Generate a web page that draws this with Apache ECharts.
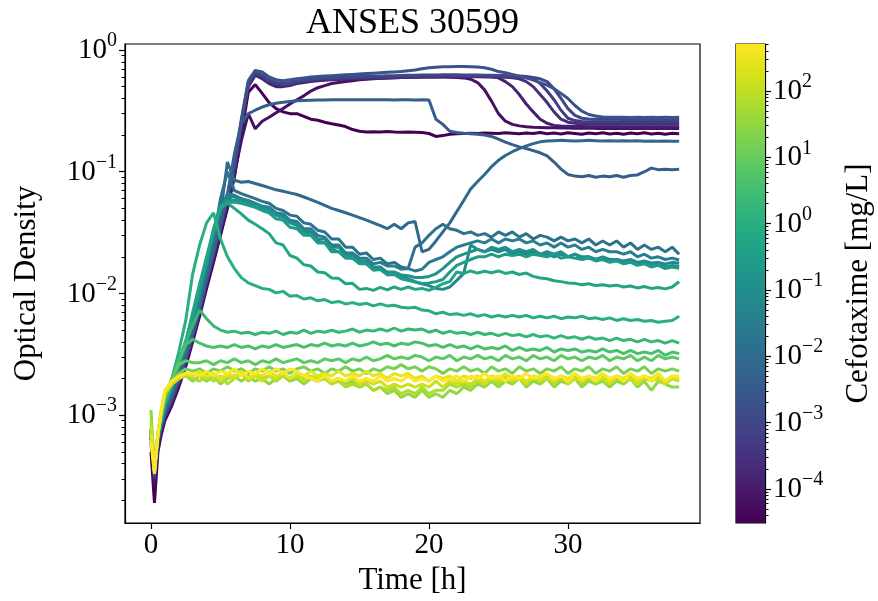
<!DOCTYPE html>
<html><head><meta charset="utf-8">
<script src="https://cdn.jsdelivr.net/npm/echarts@6/dist/echarts.min.js"></script>
<style>html,body{margin:0;padding:0;background:#fff}#chart{width:878px;height:601px}</style>
</head><body><div id="chart"></div>
<script>
// ---------- data ----------
const hours = [0,0.25,0.5,0.75,1,1.5,2,2.5,3,
 3.5,4,4.5,5,5.5,6,6.5,7,7.5,8,
 8.5,9,9.5,10,10.5,11,11.5,12,12.5,13,
 13.5,14,14.5,15,15.5,16,16.5,17,17.5,18,
 18.5,19,19.5,20,20.5,21,21.5,22,22.5,23,
 23.5,24,24.5,25,25.5,26,26.5,27,27.5,28,
 28.5,29,29.5,30,30.5,31,31.5,32,32.5,33,
 33.5,34,34.5,35,35.5,36,36.5,37,37.5,38];

// Cefotaxime concentration (mg/L) for curve k = 0..24
const concentrations = [512,256,128,64,32,16,8,4,2,1,0.5,0.25,0.125,0.0625,0.03125,0.015625,0.0078125,0.00390625,0.001953125,0.0009765625,0.00048828125,0.000244140625,0.0001220703125,0.00006103515625,0.000030517578125];

const od_k24 = [5e-4,1.9e-4,5e-4,7e-4,9e-4,1.2e-3,1.7e-3,2.5e-3,4e-3,
 0.0065,0.011,0.018,0.03,0.05,0.09,0.2,0.45,0.52,0.44,
 0.37,0.33,0.31,0.30,0.30,0.285,0.27,0.265,0.255,0.248,
 0.242,0.235,0.222,0.215,0.212,0.213,0.212,0.214,0.212,0.211,
 0.212,0.211,0.21,0.206,0.195,0.198,0.203,0.205,0.206,0.207,
 0.206,0.208,0.207,0.206,0.209,0.207,0.205,0.208,0.206,0.21,
 0.205,0.208,0.204,0.209,0.206,0.203,0.208,0.205,0.209,0.204,
 0.207,0.203,0.208,0.205,0.209,0.204,0.207,0.203,0.207,0.205];
const od_k23 = [6e-4,2.6e-4,5.5e-4,7.5e-4,9.5e-4,1.25e-3,1.8e-3,2.6e-3,4.2e-3,
 0.0068,0.0115,0.019,0.031,0.052,0.095,0.18,0.3,0.225,0.26,
 0.28,0.305,0.33,0.36,0.39,0.42,0.46,0.49,0.51,0.53,
 0.54,0.55,0.56,0.57,0.575,0.58,0.585,0.59,0.592,0.595,
 0.598,0.6,0.6,0.602,0.6,0.6,0.598,0.595,0.59,0.575,
 0.54,0.47,0.38,0.3,0.26,0.245,0.238,0.234,0.232,0.231,
 0.23,0.23,0.229,0.229,0.228,0.228,0.228,0.227,0.227,0.227,
 0.227,0.226,0.227,0.226,0.227,0.226,0.227,0.226,0.227,0.226];
const od_k22 = [6.5e-4,3e-4,5.5e-4,7.5e-4,9.5e-4,1.3e-3,1.8e-3,2.7e-3,4.3e-3,
 0.007,0.012,0.02,0.033,0.056,0.1,0.23,0.5,0.62,0.58,
 0.53,0.5,0.5,0.51,0.53,0.54,0.55,0.56,0.565,0.57,
 0.572,0.575,0.577,0.58,0.582,0.585,0.587,0.59,0.592,0.594,
 0.596,0.598,0.6,0.6,0.601,0.602,0.602,0.603,0.603,0.603,
 0.603,0.602,0.6,0.59,0.55,0.5,0.43,0.36,0.31,0.27,
 0.25,0.24,0.237,0.236,0.235,0.235,0.234,0.234,0.234,0.234,
 0.234,0.233,0.234,0.233,0.234,0.233,0.234,0.233,0.234,0.233];
const od_k21 = [7e-4,3e-4,6e-4,8e-4,1e-3,1.3e-3,1.9e-3,2.8e-3,4.4e-3,
 0.0072,0.0123,0.021,0.034,0.058,0.105,0.24,0.52,0.64,0.6,
 0.55,0.52,0.51,0.52,0.54,0.55,0.56,0.565,0.57,0.575,
 0.578,0.58,0.583,0.585,0.588,0.59,0.592,0.594,0.596,0.598,
 0.6,0.602,0.604,0.605,0.606,0.607,0.607,0.607,0.606,0.606,
 0.605,0.604,0.603,0.601,0.598,0.59,0.58,0.55,0.5,0.43,
 0.37,0.31,0.27,0.255,0.25,0.247,0.246,0.246,0.246,0.246,
 0.246,0.245,0.246,0.245,0.246,0.245,0.246,0.245,0.246,0.245];
const od_k20 = [7e-4,3.1e-4,6e-4,8e-4,1e-3,1.35e-3,1.9e-3,2.9e-3,4.5e-3,
 0.0074,0.0126,0.021,0.035,0.06,0.11,0.25,0.53,0.65,0.61,
 0.56,0.53,0.52,0.53,0.55,0.56,0.57,0.575,0.58,0.583,
 0.586,0.588,0.59,0.592,0.594,0.596,0.598,0.6,0.602,0.604,
 0.606,0.608,0.61,0.611,0.612,0.613,0.613,0.613,0.613,0.612,
 0.612,0.611,0.61,0.609,0.607,0.604,0.6,0.59,0.58,0.53,
 0.46,0.39,0.32,0.275,0.263,0.259,0.257,0.257,0.257,0.257,
 0.257,0.256,0.257,0.256,0.257,0.256,0.257,0.256,0.257,0.256];
const od_k19 = [7e-4,3.2e-4,6.2e-4,8.2e-4,1e-3,1.4e-3,2e-3,3e-3,4.6e-3,
 0.0076,0.013,0.022,0.036,0.062,0.115,0.26,0.54,0.66,0.62,
 0.57,0.54,0.53,0.54,0.56,0.57,0.58,0.585,0.59,0.594,
 0.597,0.6,0.602,0.605,0.607,0.609,0.611,0.613,0.615,0.617,
 0.619,0.62,0.622,0.623,0.624,0.625,0.625,0.625,0.624,0.623,
 0.622,0.621,0.62,0.618,0.616,0.613,0.61,0.605,0.595,0.58,
 0.55,0.48,0.4,0.33,0.29,0.275,0.271,0.27,0.27,0.27,
 0.27,0.269,0.27,0.269,0.27,0.269,0.27,0.269,0.27,0.269];
const od_k18 = [7e-4,3.2e-4,6.3e-4,8.4e-4,1.05e-3,1.4e-3,2e-3,3e-3,4.7e-3,
 0.0078,0.0133,0.0225,0.037,0.064,0.12,0.27,0.56,0.68,0.66,
 0.6,0.57,0.56,0.57,0.58,0.59,0.6,0.605,0.61,0.615,
 0.62,0.625,0.63,0.635,0.64,0.645,0.65,0.655,0.66,0.665,
 0.675,0.685,0.7,0.715,0.722,0.728,0.73,0.732,0.732,0.73,
 0.725,0.715,0.695,0.665,0.65,0.63,0.61,0.59,0.565,0.54,
 0.515,0.48,0.44,0.4,0.35,0.315,0.295,0.287,0.282,0.28,
 0.28,0.28,0.279,0.28,0.279,0.28,0.279,0.28,0.279,0.28];
const od_k17 = [7e-4,3.3e-4,6.3e-4,8.5e-4,1.05e-3,1.45e-3,2.05e-3,3.1e-3,4.8e-3,
 0.0078,0.0135,0.022,0.037,0.065,0.14,0.25,0.3,0.32,0.34,
 0.355,0.365,0.372,0.378,0.382,0.385,0.387,0.388,0.389,0.39,
 0.39,0.391,0.39,0.391,0.39,0.39,0.391,0.39,0.389,0.39,
 0.39,0.389,0.39,0.389,0.27,0.245,0.215,0.21,0.207,0.205,
 0.203,0.2,0.195,0.185,0.175,0.167,0.16,0.155,0.149,0.143,
 0.135,0.12,0.105,0.095,0.092,0.091,0.093,0.09,0.092,0.091,
 0.093,0.09,0.093,0.094,0.1,0.107,0.104,0.105,0.104,0.105];
const od_k16 = [7e-4,3.3e-4,6.5e-4,8.5e-4,1.1e-3,1.5e-3,2.1e-3,3.2e-3,5e-3,
 0.008,0.014,0.024,0.045,0.12,0.085,0.082,0.083,0.08,0.077,
 0.074,0.071,0.069,0.067,0.065,0.062,0.059,0.056,0.053,0.05,
 0.048,0.046,0.044,0.042,0.04,0.038,0.036,0.034,0.037,0.034,
 0.038,0.039,0.022,0.023,0.027,0.032,0.038,0.047,0.058,0.072,
 0.083,0.095,0.11,0.124,0.136,0.146,0.155,0.163,0.17,0.176,
 0.179,0.18,0.181,0.18,0.179,0.18,0.181,0.18,0.179,0.18,
 0.179,0.18,0.179,0.18,0.178,0.179,0.178,0.179,0.178,0.178];
const od_k15 = [7e-4,3.3e-4,6.5e-4,8.8e-4,1.15e-3,1.6e-3,2.3e-3,3.5e-3,5.5e-3,
 0.009,0.016,0.028,0.06,0.1,0.07,0.066,0.063,0.06,0.057,
 0.055,0.05,0.048,0.044,0.043,0.038,0.037,0.033,0.032,0.028,
 0.028,0.024,0.024,0.021,0.0215,0.019,0.0195,0.0175,0.018,0.0165,
 0.016,0.024,0.026,0.03,0.034,0.037,0.034,0.033,0.031,0.032,
 0.03,0.031,0.029,0.032,0.03,0.032,0.029,0.031,0.028,0.03,
 0.029,0.027,0.029,0.027,0.028,0.026,0.028,0.025,0.027,0.025,
 0.027,0.024,0.026,0.023,0.025,0.023,0.024,0.022,0.024,0.021];
const od_k14 = [7.5e-4,3.4e-4,6.6e-4,9e-4,1.2e-3,1.65e-3,2.4e-3,3.6e-3,5.7e-3,
 0.0095,0.017,0.03,0.05,0.066,0.064,0.06,0.058,0.055,0.052,
 0.051,0.046,0.045,0.04,0.039,0.034,0.034,0.03,0.029,0.025,
 0.025,0.0215,0.0215,0.0195,0.0195,0.0175,0.018,0.0168,0.0168,0.0158,
 0.016,0.0153,0.0158,0.018,0.019,0.02,0.022,0.024,0.025,0.026,
 0.027,0.026,0.028,0.026,0.028,0.027,0.028,0.026,0.027,0.025,
 0.026,0.024,0.026,0.024,0.025,0.023,0.024,0.022,0.023,0.022,
 0.022,0.021,0.022,0.02,0.021,0.0195,0.02,0.019,0.0195,0.0188];
const od_k13 = [7.5e-4,3.4e-4,6.7e-4,9.2e-4,1.2e-3,1.7e-3,2.5e-3,3.7e-3,5.9e-3,
 0.0098,0.0175,0.031,0.052,0.062,0.062,0.06,0.057,0.055,0.052,
 0.05,0.045,0.044,0.039,0.038,0.033,0.032,0.028,0.028,0.024,
 0.024,0.021,0.0205,0.0185,0.0185,0.0165,0.0165,0.0148,0.0148,0.0136,
 0.0132,0.0125,0.012,0.0116,0.011,0.0108,0.0113,0.0128,0.0146,0.025,
 0.023,0.022,0.023,0.022,0.023,0.021,0.022,0.021,0.022,0.021,
 0.021,0.02,0.021,0.02,0.021,0.0195,0.02,0.019,0.02,0.019,
 0.019,0.0185,0.019,0.018,0.0185,0.0178,0.018,0.0175,0.018,0.0177];
const od_k12 = [7.5e-4,3.5e-4,6.8e-4,9.4e-4,1.25e-3,1.75e-3,2.6e-3,3.9e-3,6.2e-3,
 0.0103,0.018,0.032,0.05,0.058,0.058,0.058,0.055,0.054,0.05,
 0.048,0.044,0.042,0.038,0.036,0.032,0.03,0.027,0.026,0.023,
 0.022,0.0205,0.0195,0.018,0.0175,0.0162,0.016,0.015,0.015,0.0142,
 0.014,0.0135,0.0135,0.0138,0.0145,0.016,0.018,0.02,0.021,0.022,
 0.023,0.022,0.024,0.023,0.024,0.022,0.023,0.022,0.023,0.021,
 0.022,0.021,0.022,0.02,0.021,0.02,0.02,0.019,0.0195,0.0185,
 0.019,0.018,0.0185,0.0175,0.018,0.017,0.0175,0.0166,0.017,0.0167];
const od_k11 = [7.5e-4,3.5e-4,6.9e-4,9.6e-4,1.3e-3,1.8e-3,2.7e-3,4.1e-3,6.5e-3,
 0.011,0.019,0.034,0.052,0.056,0.056,0.055,0.053,0.051,0.048,
 0.046,0.041,0.04,0.035,0.034,0.03,0.03,0.026,0.026,0.022,
 0.022,0.0195,0.0195,0.0175,0.0175,0.0155,0.0157,0.0142,0.0143,0.0132,
 0.0128,0.0124,0.012,0.0122,0.0125,0.013,0.015,0.017,0.018,0.019,
 0.02,0.02,0.021,0.02,0.021,0.0205,0.021,0.02,0.021,0.0205,
 0.02,0.021,0.0195,0.02,0.0195,0.019,0.0195,0.0185,0.019,0.018,
 0.0185,0.0175,0.018,0.017,0.0175,0.0165,0.017,0.016,0.0165,0.0161];
const od_k10 = [7e-4,3.5e-4,6.5e-4,9e-4,1.2e-3,1.7e-3,2.6e-3,4e-3,7e-3,
 0.012,0.02,0.033,0.05,0.055,0.05,0.045,0.04,0.037,0.034,
 0.031,0.026,0.025,0.0205,0.0195,0.0172,0.0168,0.015,0.0148,0.0134,
 0.0133,0.012,0.0121,0.0108,0.011,0.0106,0.0112,0.0107,0.0113,0.0108,
 0.0113,0.0108,0.011,0.0106,0.0112,0.012,0.0125,0.015,0.0146,0.0153,
 0.0147,0.0152,0.0148,0.0153,0.0146,0.015,0.0143,0.0147,0.0138,0.0134,
 0.0132,0.0127,0.0125,0.0122,0.0121,0.0118,0.012,0.0116,0.0118,0.0115,
 0.0117,0.0113,0.0115,0.0111,0.0114,0.011,0.0112,0.0109,0.0113,0.0125];
const od_k9 = [7e-4,3.5e-4,7e-4,1e-3,1.35e-3,2e-3,3.3e-3,6e-3,0.0145,
 0.025,0.038,0.046,0.028,0.02,0.016,0.0135,0.0122,0.0116,0.011,
 0.0108,0.0101,0.0104,0.0095,0.0096,0.009,0.0092,0.0087,0.0089,0.0084,
 0.0086,0.0082,0.0084,0.0081,0.0083,0.0079,0.0082,0.0079,0.008,0.0077,
 0.0076,0.0077,0.0073,0.0072,0.0068,0.007,0.0067,0.0068,0.0066,0.0068,
 0.0065,0.0067,0.0064,0.0066,0.0064,0.0066,0.0064,0.0066,0.0063,0.0065,
 0.0063,0.0065,0.0062,0.0064,0.0063,0.0065,0.0062,0.0063,0.0061,0.0063,
 0.006,0.0062,0.006,0.0061,0.0059,0.006,0.0058,0.0059,0.006,0.0065];
const od_k8 = [7e-4,3.5e-4,7e-4,1e-3,1.3e-3,1.9e-3,2.8e-3,4e-3,5.5e-3,
 0.0073,0.0062,0.0054,0.005,0.0048,0.0049,0.0047,0.0048,0.0046,0.0048,
 0.0047,0.0049,0.0046,0.0048,0.0047,0.005,0.0047,0.0049,0.0048,0.005,
 0.0048,0.0049,0.0051,0.0048,0.005,0.0049,0.0051,0.0049,0.0052,0.0049,
 0.0051,0.005,0.0051,0.0048,0.005,0.0047,0.0049,0.0047,0.0048,0.0046,
 0.0048,0.0046,0.0047,0.0045,0.0047,0.0045,0.0046,0.0044,0.0046,0.0044,
 0.0045,0.0043,0.0045,0.0043,0.0044,0.0042,0.0044,0.0042,0.0043,0.0041,
 0.0043,0.0041,0.0042,0.004,0.0042,0.004,0.0041,0.0039,0.0041,0.0039];
const od_k7 = [7e-4,3.5e-4,7e-4,1e-3,1.35e-3,1.95e-3,2.8e-3,3.8e-3,4.2e-3,
 0.0039,0.0037,0.0036,0.0037,0.0036,0.0038,0.0036,0.0037,0.0035,0.0037,
 0.0036,0.0038,0.0036,0.0037,0.0038,0.0036,0.0038,0.0037,0.0039,0.0037,
 0.0038,0.0037,0.0039,0.0037,0.0038,0.004,0.0038,0.0039,0.0037,0.0039,
 0.0038,0.004,0.0039,0.0037,0.0038,0.0036,0.0038,0.0036,0.0037,0.0035,
 0.0037,0.0035,0.0036,0.0035,0.0037,0.0034,0.0036,0.0034,0.0035,0.0034,
 0.0036,0.0033,0.0035,0.0034,0.0035,0.0033,0.0034,0.0033,0.0035,0.0033,
 0.0034,0.0032,0.0034,0.0032,0.0033,0.0032,0.0034,0.0031,0.0033,0.0032];
const od_k6 = [7e-4,3.5e-4,7e-4,1.05e-3,1.4e-3,2e-3,2.6e-3,2.8e-3,2.7e-3,
 0.0027,0.0028,0.0026,0.0028,0.0027,0.0029,0.0027,0.0028,0.0026,0.0028,
 0.0027,0.0029,0.0027,0.0028,0.0029,0.0027,0.0028,0.0027,0.0029,0.0028,
 0.0029,0.0027,0.0029,0.0028,0.003,0.0028,0.0029,0.0031,0.0029,0.003,
 0.0029,0.0031,0.003,0.0028,0.003,0.0029,0.0031,0.0028,0.003,0.0029,
 0.0031,0.0029,0.003,0.0028,0.0031,0.0029,0.003,0.0028,0.0031,0.0029,
 0.003,0.0028,0.0031,0.0029,0.003,0.0028,0.003,0.0029,0.0031,0.0028,
 0.003,0.0029,0.0031,0.0028,0.003,0.0028,0.0031,0.0029,0.003,0.0029];
const od_k5 = [8e-4,3.5e-4,7e-4,1.1e-3,1.5e-3,1.9e-3,2.2e-3,2.4e-3,2.3e-3,
 0.0024,0.0022,0.0024,0.0023,0.0025,0.0023,0.0024,0.0022,0.0024,0.0023,
 0.0025,0.0023,0.0024,0.0022,0.0024,0.0025,0.0023,0.0024,0.0022,0.0024,
 0.0023,0.0025,0.0023,0.0024,0.0022,0.0024,0.0023,0.0025,0.0024,0.0026,
 0.0024,0.0025,0.0023,0.0025,0.0024,0.0022,0.0024,0.0023,0.0025,0.0023,
 0.0024,0.0022,0.0025,0.0023,0.0024,0.0022,0.0025,0.0023,0.0024,0.0022,
 0.0024,0.0023,0.0025,0.0022,0.0024,0.0023,0.0025,0.0022,0.0024,0.0023,
 0.0025,0.0022,0.0024,0.0023,0.0025,0.0022,0.0024,0.0023,0.0024,0.0023];
const od_k4 = [1.1e-3,3.5e-4,7e-4,1.1e-3,1.5e-3,1.8e-3,2e-3,2.1e-3,1.9e-3,
 0.0021,0.0019,0.0021,0.0018,0.002,0.0021,0.0019,0.0021,0.0019,0.002,
 0.0018,0.002,0.0021,0.0019,0.002,0.0018,0.002,0.0019,0.0021,0.0019,
 0.002,0.0018,0.0019,0.0017,0.0018,0.0016,0.0017,0.0015,0.0016,0.0014,
 0.0015,0.0014,0.0016,0.0014,0.0015,0.0014,0.0016,0.0015,0.0017,0.0016,
 0.0018,0.0017,0.0019,0.0017,0.0019,0.0018,0.002,0.0017,0.0019,0.0018,
 0.002,0.0017,0.0019,0.0018,0.002,0.0017,0.0019,0.0018,0.0019,0.0017,
 0.0019,0.0018,0.002,0.0017,0.0019,0.0016,0.0019,0.0018,0.0017,0.0017];
const od_k3 = [9e-4,3.5e-4,7e-4,1.1e-3,1.5e-3,1.8e-3,2e-3,2.1e-3,2e-3,
 0.0019,0.0021,0.0019,0.0021,0.0018,0.002,0.0022,0.0019,0.0021,0.002,
 0.0021,0.0019,0.0021,0.002,0.0022,0.002,0.0021,0.0019,0.002,0.0018,
 0.0019,0.0017,0.0018,0.0017,0.0018,0.0016,0.0017,0.0016,0.0017,0.0015,
 0.0016,0.0015,0.0017,0.0015,0.0016,0.0016,0.0018,0.0017,0.0018,0.0017,
 0.0019,0.0018,0.002,0.0018,0.002,0.0019,0.002,0.0018,0.002,0.0019,
 0.0021,0.0018,0.002,0.0019,0.0021,0.0018,0.002,0.0019,0.0021,0.0018,
 0.002,0.0019,0.0021,0.0018,0.002,0.0019,0.0021,0.0018,0.002,0.0019];
const od_k2 = [8e-4,3.4e-4,7e-4,1.1e-3,1.5e-3,1.8e-3,2e-3,2.2e-3,2.1e-3,
 0.0022,0.002,0.0022,0.0019,0.0021,0.002,0.0022,0.002,0.0021,0.0019,
 0.0021,0.002,0.0022,0.002,0.0021,0.0019,0.0021,0.002,0.0021,0.0019,
 0.002,0.0019,0.002,0.0018,0.0019,0.0018,0.0019,0.0017,0.0018,0.0017,
 0.0018,0.0017,0.0018,0.0017,0.0019,0.0017,0.0019,0.0018,0.0019,0.0018,
 0.002,0.0018,0.002,0.0019,0.0021,0.0019,0.002,0.0018,0.0021,0.0019,
 0.002,0.0019,0.0021,0.0018,0.002,0.0019,0.0021,0.0019,0.002,0.0018,
 0.0021,0.0019,0.002,0.0018,0.0021,0.0019,0.002,0.0018,0.002,0.0019];
const od_k1 = [7e-4,3.4e-4,7e-4,1.1e-3,1.6e-3,1.9e-3,2.1e-3,2.2e-3,2.1e-3,
 0.0023,0.0021,0.0022,0.002,0.0022,0.0021,0.0023,0.002,0.0022,0.0021,
 0.0023,0.0021,0.0022,0.002,0.0022,0.0021,0.0023,0.0021,0.0022,0.0021,
 0.0023,0.0021,0.0022,0.0021,0.0023,0.0021,0.0022,0.002,0.0022,0.0021,
 0.0022,0.002,0.0021,0.0019,0.0021,0.002,0.0021,0.0019,0.0021,0.002,
 0.0021,0.0019,0.0021,0.002,0.0022,0.002,0.0021,0.0019,0.0021,0.002,
 0.0022,0.0019,0.0021,0.002,0.0022,0.0019,0.0021,0.002,0.0022,0.0019,
 0.0021,0.002,0.0022,0.0019,0.0021,0.002,0.0022,0.0019,0.0021,0.002];
const od_k0 = [6e-4,3.3e-4,7e-4,1.1e-3,1.6e-3,1.9e-3,2.1e-3,2.2e-3,2.2e-3,
 0.0021,0.0023,0.0021,0.0023,0.0022,0.0024,0.0021,0.0023,0.0022,0.0024,
 0.0022,0.0024,0.0022,0.0024,0.0023,0.0021,0.002,0.0019,0.0021,0.0019,
 0.002,0.0019,0.0021,0.0019,0.002,0.0019,0.0021,0.0019,0.002,0.0019,
 0.0021,0.0019,0.002,0.0019,0.0021,0.0019,0.002,0.0021,0.0019,0.0021,
 0.002,0.0022,0.002,0.0021,0.0019,0.0021,0.002,0.0022,0.002,0.0021,
 0.0022,0.002,0.0021,0.0019,0.0022,0.002,0.0021,0.0019,0.0022,0.002,
 0.0021,0.0019,0.0022,0.002,0.0021,0.0019,0.0022,0.0019,0.0021,0.0021];

// curves indexed by k (concentration = concentrations[k])
const curves = [od_k0,od_k1,od_k2,od_k3,od_k4,od_k5,od_k6,od_k7,od_k8,od_k9,od_k10,od_k11,od_k12,
  od_k13,od_k14,od_k15,od_k16,od_k17,od_k18,od_k19,od_k20,od_k21,od_k22,od_k23,od_k24];

const timeTicks = [0,10,20,30];
const odTicks = [0.001,0.01,0.1,1];
const concTicks = [0.0001,0.001,0.01,0.1,1,10,100];
const mantissas = [2,3,4,5,6,7,8,9];

// ---------- style ----------
const FONT = 'Liberation Serif';
const viridis = ['#440154','#48186a','#472d7b','#424086','#3b528b','#33638d','#2c728e','#26828e',
  '#21918c','#1fa088','#28ae80','#3fbc73','#5ec962','#84d44b','#addc30','#d8e219','#fde725'];
const cMin = concentrations[concentrations.length-1], cMax = concentrations[0];

function hexToRgb(h){return [parseInt(h.slice(1,3),16),parseInt(h.slice(3,5),16),parseInt(h.slice(5,7),16)];}
function viridisColor(p){
  p = Math.max(0, Math.min(1, p));
  const n = viridis.length - 1, f = p * n, i = Math.min(Math.floor(f), n - 1), r = f - i;
  const a = hexToRgb(viridis[i]), b = hexToRgb(viridis[i+1]);
  return 'rgb(' + a.map((v,j)=>Math.round(v + (b[j]-v)*r)).join(',') + ')';
}
function concColor(c){
  return viridisColor((Math.log10(c) - Math.log10(cMin)) / (Math.log10(cMax) - Math.log10(cMin)));
}
function powLabel(v){
  const e = Math.round(Math.log10(v));
  return '{b|10}{s|' + (e < 0 ? '\u2212' + (-e) : e) + '}';
}
const richPow = {
  b: {fontSize: 29, fontFamily: FONT, color: '#000', verticalAlign: 'bottom', lineHeight: 30},
  s: {fontSize: 20, fontFamily: FONT, color: '#000', verticalAlign: 'bottom', lineHeight: 20, padding: [0,0,14,0]}
};
function minorTicks(lo, hi){
  const out = [];
  for (let e = Math.floor(Math.log10(lo)); e <= Math.ceil(Math.log10(hi)); e++) {
    mantissas.forEach(m => { const v = m * Math.pow(10, e); if (v >= lo && v <= hi) out.push(v); });
  }
  return out;
}

const odMin = 1.3e-4, odMax = 1.12;
const tMin = -1.87, tMax = 39.5;
const axisCol = '#000';

const series = [];
series.push({
  type: 'custom', xAxisIndex: 1, yAxisIndex: 2, silent: true, z: 1,
  data: [[0, cMin, 1, cMax]],
  renderItem: function(params, api){
    const p0 = api.coord([api.value(0), api.value(3)]);
    const p1 = api.coord([api.value(2), api.value(1)]);
    return {type: 'rect', shape: {x: p0[0], y: p0[1], width: p1[0]-p0[0], height: p1[1]-p0[1]},
      style: {fill: new echarts.graphic.LinearGradient(0, 1, 0, 0,
        viridis.map((c, i) => ({offset: i/(viridis.length-1), color: c})))}};
  }
});
for (let k = curves.length - 1; k >= 0; k--) {
  series.push({
    type: 'line', xAxisIndex: 0, yAxisIndex: 0, showSymbol: false, symbol: 'none',
    silent: true, animation: false,
    lineStyle: {width: 3, color: concColor(concentrations[k])},
    data: hours.map((t, i) => [t, curves[k][i]])
  });
}

const chart = echarts.init(document.getElementById('chart'), null, {renderer: 'canvas'});
chart.setOption({
  animation: false,
  backgroundColor: '#fff',
  graphic: [{type: 'text', x: 412.5, y: 24, style: {text: 'ANSES 30599', font: '36px "' + FONT + '"',
    fill: '#000', textAlign: 'center', textVerticalAlign: 'middle'}}],
  grid: [
    {left: 125, top: 44, width: 575, height: 479, show: true, borderColor: '#000', borderWidth: 1.2, outerBoundsMode: 'none', containLabel: false},
    {left: 736, top: 44, width: 29, height: 479, show: true, borderColor: '#000', borderWidth: 1.2, outerBoundsMode: 'none', containLabel: false}
  ],
  xAxis: [
    {type: 'value', gridIndex: 0, min: tMin, max: tMax,
     axisLine: {onZero: false, lineStyle: {color: axisCol, width: 1.2}},
     splitLine: {show: false},
     axisTick: {customValues: timeTicks, length: 6, lineStyle: {color: axisCol, width: 1.2}},
     axisLabel: {customValues: timeTicks, fontSize: 29, fontFamily: FONT, color: '#000', margin: 8},
     name: 'Time [h]', nameLocation: 'middle', nameGap: 42,
     nameTextStyle: {fontSize: 31, fontFamily: FONT, color: '#000'}},
    {type: 'value', gridIndex: 1, min: 0, max: 1, show: false, axisLine: {onZero: false}}
  ],
  yAxis: [
    {type: 'log', logBase: 10, gridIndex: 0, min: odMin, max: odMax, position: 'left',
     axisLine: {show: true, onZero: false, lineStyle: {color: axisCol, width: 1.2}},
     splitLine: {show: false}, minorTick: {show: false},
     axisTick: {customValues: odTicks, length: 6, lineStyle: {color: axisCol, width: 1.2}},
     axisLabel: {customValues: odTicks, formatter: powLabel, rich: richPow, margin: 8},
     name: 'Optical Density', nameLocation: 'middle', nameGap: 83, nameRotate: 90,
     nameTextStyle: {fontSize: 31, fontFamily: FONT, color: '#000'}},
    {type: 'log', logBase: 10, gridIndex: 0, min: odMin, max: odMax, position: 'left', offset: 0,
     axisLine: {show: false, onZero: false}, splitLine: {show: false}, axisLabel: {show: false},
     axisTick: {customValues: minorTicks(odMin, odMax), length: 3.5, lineStyle: {color: axisCol, width: 1}}},
    {type: 'log', logBase: 10, gridIndex: 1, min: cMin, max: cMax, position: 'right',
     axisLine: {show: true, onZero: false, lineStyle: {color: axisCol, width: 1.2}},
     splitLine: {show: false},
     axisTick: {customValues: concTicks, length: 6, lineStyle: {color: axisCol, width: 1.2}},
     axisLabel: {customValues: concTicks, formatter: powLabel, rich: richPow, margin: 8},
     name: 'Cefotaxime [mg/L]', nameLocation: 'middle', nameGap: 78, nameRotate: 90,
     nameTextStyle: {fontSize: 31, fontFamily: FONT, color: '#000'}},
    {type: 'log', logBase: 10, gridIndex: 1, min: cMin, max: cMax, position: 'right', offset: 0,
     axisLine: {show: false, onZero: false}, splitLine: {show: false}, axisLabel: {show: false},
     axisTick: {customValues: minorTicks(cMin, cMax), length: 3.5, lineStyle: {color: axisCol, width: 1}}}
  ],
  series: series
});
</script></body></html>
